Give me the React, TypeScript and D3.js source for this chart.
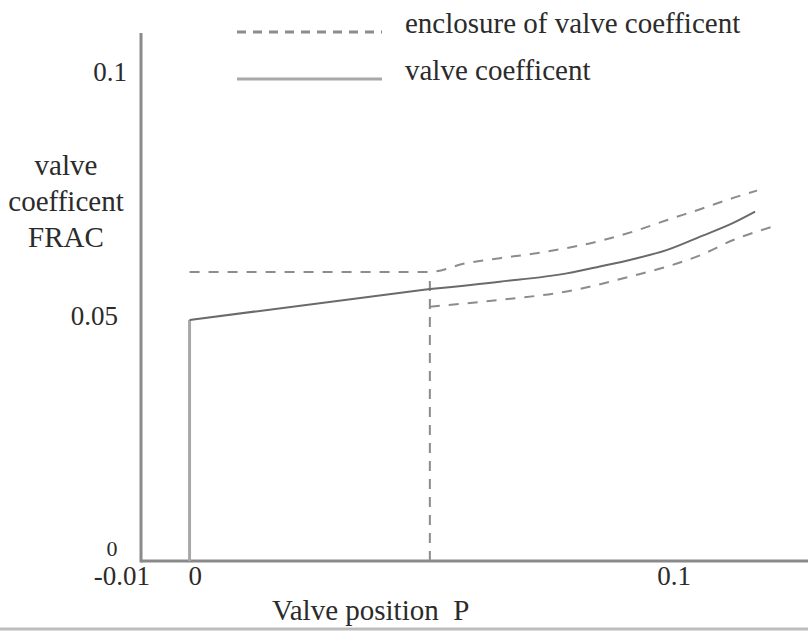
import React from 'react';
import * as d3 from 'd3';

// values
const xTicks = [-0.01, 0, 0.1];
const yTicks = [0, 0.05, 0.1];

const coefP = [0, 0, 0.0495, 0.0639, 0.0777, 0.0845, 0.0913, 0.0984, 0.1052, 0.112, 0.1165];
const coefV = [0, 0.0492, 0.0555, 0.057, 0.0587, 0.0601, 0.0616, 0.0635, 0.0662, 0.069, 0.0713];

const upperP = [0, 0.0495, 0.0571, 0.0639, 0.0707, 0.0852, 0.0913, 0.0984, 0.1052, 0.112, 0.1169];
const upperV = [0.059, 0.059, 0.0608, 0.0618, 0.0627, 0.0655, 0.0672, 0.0696, 0.0718, 0.0741, 0.0756];

const lowerP = [0.0495, 0.0495, 0.0639, 0.0777, 0.0913, 0.0984, 0.1052, 0.112, 0.12];
const lowerV = [0, 0.0519, 0.0533, 0.055, 0.0582, 0.0601, 0.0624, 0.0655, 0.0682];

const legendLabels = ['enclosure of valve coefficent', 'valve coefficent'];
const yTitle = ['valve', 'coefficent', 'FRAC'];
const xTitle = 'Valve position  P';

const W = 808;
const H = 632;
const txt = { fontFamily: "'Liberation Serif'", fontSize: 27, fill: '#2b2b2b' };
const title = { ...txt, fontSize: 29 };

const x = d3.scaleLinear().domain([-0.01, 0.1]).range([141, 675]);
const y = d3.scaleLinear().domain([0, 0.1]).range([561, 71]);

const zip = (px: number[], py: number[]) => px.map((p, i) => [p, py[i]] as [number, number]);

export default function App() {
  const smooth = d3.line<[number, number]>()
    .x(d => x(d[0]))
    .y(d => y(d[1]))
    .curve(d3.curveMonotoneX);
  const straight = d3.line<[number, number]>()
    .x(d => x(d[0]))
    .y(d => y(d[1]));

  const coef = zip(coefP, coefV);
  const upper = zip(upperP, upperV);
  const lower = zip(lowerP, lowerV);

  // lower enclosure: vertical drop line, then the curve
  const drop = lower.slice(0, 2).map((d, i) => (i === 1 ? [d[0], coefV[2] + 0.0018] : d) as [number, number]);

  const axisColor = '#8a8a8a';
  const dashColor = '#8c8c8c';

  // hand placement of tick labels as in the source figure
  const xLabel = (t: number) => {
    if (t < 0) return { anchor: 'end', dx: 9 };
    if (t === 0) return { anchor: 'start', dx: -1 };
    return { anchor: 'middle', dx: -1 };
  };
  const yLabel = (t: number) => {
    if (t === 0) return { anchor: 'middle', x: 112, dy: -5, size: 22 };
    if (t === 0.05) return { anchor: 'end', x: 118, dy: 9, size: 27 };
    return { anchor: 'end', x: 127, dy: 10, size: 27 };
  };

  return (
    <svg width={W} height={H}
      style={{ position: 'absolute', left: 0, top: 0, display: 'block', background: '#fff' }}>
      <rect width={W} height={H} fill="#fff" />

      {/* axes */}
      <line x1={x(-0.01)} x2={x(-0.01)} y1={33} y2={y(0) + 1.5} stroke={axisColor} strokeWidth={3} />
      <line x1={x(-0.01)} x2={W} y1={y(0)} y2={y(0)} stroke={axisColor} strokeWidth={3} />

      {xTicks.map(t => {
        const l = xLabel(t);
        return (
          <text key={'x' + t} x={x(t) + l.dx} y={585} textAnchor={l.anchor} style={txt}>
            {t === -0.01 ? '-0.01' : String(t)}
          </text>
        );
      })}
      {yTicks.map(t => {
        const l = yLabel(t);
        return (
          <text key={'y' + t} x={l.x} y={y(t) + l.dy} textAnchor={l.anchor} style={{ ...txt, fontSize: l.size }}>
            {String(t)}
          </text>
        );
      })}

      {yTitle.map((s, i) => (
        <text key={s} x={66} y={175 + i * 36} textAnchor="middle" style={title}>{s}</text>
      ))}
      <text x={272} y={620} style={{ ...title, whiteSpace: 'pre' }}>{xTitle}</text>

      {/* enclosure */}
      <path d={straight(drop) || ''} fill="none" stroke={dashColor} strokeWidth={2} strokeDasharray="10,8" />
      <path d={smooth(upper) || ''} fill="none" stroke={dashColor} strokeWidth={2} strokeDasharray="10,9" />
      <path d={smooth(lower.slice(1)) || ''} fill="none" stroke={dashColor} strokeWidth={2} strokeDasharray="10,9" />

      {/* valve coefficent */}
      <path d={straight(coef.slice(0, 2)) || ''} fill="none" stroke="#a8a8a8" strokeWidth={3} />
      <path d={straight(coef.slice(1, 3)) || ''} fill="none" stroke="#6a6a6a" strokeWidth={2} />
      <path d={smooth(coef.slice(2)) || ''} fill="none" stroke="#6a6a6a" strokeWidth={2} />

      {/* legend */}
      <line x1={237} x2={382} y1={32} y2={32} stroke={dashColor} strokeWidth={3} strokeDasharray="9,7" />
      <text x={405} y={33} style={title}>{legendLabels[0]}</text>
      <line x1={237} x2={382} y1={79} y2={79} stroke="#a8a8a8" strokeWidth={3} />
      <text x={405} y={80} style={title}>{legendLabels[1]}</text>

      <line x1={0} x2={W} y1={629} y2={629} stroke="#bdbdbd" strokeWidth={3} />
    </svg>
  );
}
